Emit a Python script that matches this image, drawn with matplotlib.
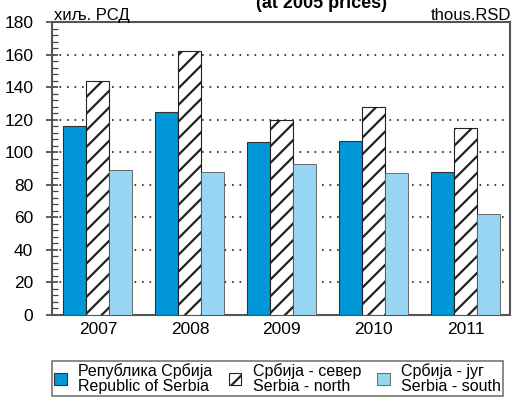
import numpy as np
import matplotlib
matplotlib.use("Agg")
import matplotlib.pyplot as plt

# --- datos ---
anios = ["2007", "2008", "2009", "2010", "2011"]
srbija = [116, 125, 106, 107, 88]
sever = [144, 162, 120, 128, 115]
jug = [89, 88, 93, 87, 62]

etiquetas = ["Република Србија\nRepublic of Serbia",
             "Србија - север\nSerbia - north",
             "Србија - југ\nSerbia - south"]

plt.rcParams["font.family"] = ["Liberation Sans", "DejaVu Sans"]
plt.rcParams["hatch.linewidth"] = 1.6

fig = plt.figure(figsize=(5.12, 3.97), dpi=100)
ax = fig.add_axes([52 / 512, 1 - 315 / 397, (510 - 52) / 512, (315 - 22) / 397])

x = np.arange(len(anios))
w = 0.25
b1 = ax.bar(x - w, srbija, w, color="#0096d8", edgecolor="#333333", linewidth=0.8, zorder=3)
b2 = ax.bar(x, sever, w, color="white", edgecolor="#222222", hatch="//", linewidth=0.8, zorder=3)
b3 = ax.bar(x + w, jug, w, color="#98d5f3", edgecolor="#555555", linewidth=0.6, zorder=3)

ax.set_xlim(-0.5, 4.48)
ax.set_ylim(0, 180)
ax.set_yticks(range(0, 181, 20))
ax.set_yticks(range(0, 181, 4), minor=True)
ax.set_xticks(x)
ax.set_xticklabels(anios)
ax.tick_params(axis="x", length=0, labelsize=12.5, pad=5)
ax.tick_params(axis="y", which="major", direction="inout", length=9, width=1.2,
               labelsize=12.5, color="#444444", pad=9)
ax.tick_params(axis="y", which="minor", direction="in", length=4, width=0.9, color="#444444")

ax.grid(axis="y", linestyle=(0, (1, 3.5)), color="#222222", linewidth=1.2, zorder=0)
for s in ax.spines.values():
    s.set_color("#555555")
    s.set_linewidth(1.5)

fig.text(52 / 512 + 0.003, 1 - 20 / 397, "хиљ. РСД", fontsize=12, va="baseline", ha="left")
fig.text(511 / 512, 1 - 20 / 397, "thous.RSD", fontsize=12, va="baseline", ha="right")
fig.text(321 / 512, 1 - 8 / 397, "(at 2005 prices)", fontsize=13, fontweight="bold",
         va="baseline", ha="center")

leg = fig.legend([b1, b2, b3], etiquetas, loc="upper left", ncol=3,
                 bbox_to_anchor=(52 / 512, 1 - 361 / 397), borderaxespad=0,
                 fontsize=11.5, frameon=True, fancybox=False, edgecolor="#555555",
                 handlelength=0.8, handleheight=0.8, handletextpad=0.7,
                 columnspacing=1.0, borderpad=0.15, labelspacing=0.1)
leg.get_frame().set_linewidth(1.2)
for t in leg.get_texts():
    t.set_linespacing(0.95)

fig.savefig("out.png", dpi=100)
